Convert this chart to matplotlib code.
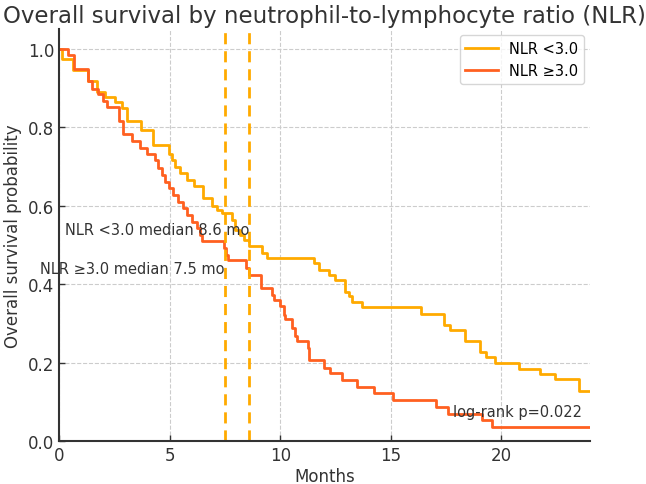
import matplotlib
matplotlib.use('Agg')
import matplotlib.pyplot as plt
import numpy as np

# NLR < 3.0 : step times (months) and survival after each step
t_low = [0, 0.14, 0.62, 1.33, 1.70, 2.08, 2.53, 2.84, 3.06, 3.71, 4.27, 4.95, 5.10,
         5.25, 5.48, 5.78, 6.08, 6.53, 6.91, 7.13, 7.36, 7.81, 7.96, 8.19, 8.34, 8.57,
         9.17, 9.40, 11.51, 11.73, 12.19, 12.49, 12.94, 13.09, 13.24, 13.70, 16.37,
         17.39, 17.69, 18.33, 18.37, 19.05, 19.32, 19.70, 20.78, 21.73, 22.44, 23.50]
s_low = [1.0, 0.975, 0.947, 0.919, 0.889, 0.876, 0.864, 0.848, 0.817, 0.792, 0.755,
         0.733, 0.716, 0.699, 0.683, 0.665, 0.650, 0.619, 0.600, 0.589, 0.581, 0.563,
         0.538, 0.525, 0.513, 0.496, 0.479, 0.467, 0.454, 0.437, 0.424, 0.411, 0.381,
         0.369, 0.354, 0.341, 0.325, 0.297, 0.282, 0.269, 0.255, 0.227, 0.214, 0.200,
         0.184, 0.170, 0.157, 0.128]

# NLR >= 3.0
t_high = [0, 0.39, 0.69, 1.33, 1.48, 1.78, 2.00, 2.16, 2.71, 2.91, 3.29, 3.67, 3.97,
          4.34, 4.49, 4.65, 4.80, 4.95, 5.17, 5.40, 5.62, 5.78, 6.00, 6.23, 6.38, 6.45,
          7.45, 7.55, 7.62, 8.45, 8.57, 9.13, 9.62, 9.70, 10.00, 10.15, 10.23, 10.53,
          10.68, 10.75, 11.24, 11.28, 11.96, 12.23, 12.79, 13.47, 14.22, 15.10, 17.06,
          17.60, 19.13, 19.58]
s_high = [1.0, 0.985, 0.948, 0.919, 0.898, 0.885, 0.868, 0.851, 0.817, 0.784, 0.766,
          0.746, 0.733, 0.716, 0.695, 0.678, 0.661, 0.645, 0.627, 0.610, 0.594, 0.576,
          0.559, 0.543, 0.525, 0.510, 0.492, 0.475, 0.462, 0.441, 0.424, 0.390, 0.373,
          0.360, 0.343, 0.322, 0.310, 0.289, 0.267, 0.255, 0.238, 0.206, 0.187, 0.173,
          0.156, 0.138, 0.122, 0.105, 0.087, 0.068, 0.054, 0.035]

t_end = 24
median_low = 8.6
median_high = 7.5
p_value = 0.022

c_low = '#FFAA00'
c_high = '#FF6020'

fig = plt.figure(figsize=(6.46, 4.85), dpi=100)
ax = fig.add_axes([0.0913, 0.0887, 0.822, 0.849])

ax.step(t_low + [t_end], s_low + [s_low[-1]], where='post', color=c_low, lw=2, label='NLR <3.0')
ax.step(t_high + [t_end], s_high + [s_high[-1]], where='post', color=c_high, lw=2, label='NLR \u22653.0')

ax.axvline(median_low, color=c_low, ls='--', lw=2, dashes=(4, 2.5))
ax.axvline(median_high, color=c_low, ls='--', lw=2, dashes=(4, 2.5))

ax.text(median_low, 0.54, 'NLR <3.0 median %.1f mo' % median_low, ha='right', va='center',
        fontsize=10.5, color='#333333')
ax.text(median_high, 0.44, 'NLR \u22653.0 median %.1f mo' % median_high, ha='right', va='center',
        fontsize=10.5, color='#333333')
ax.text(17.8, 0.074, 'log-rank p=%.3f' % p_value, ha='left', va='center',
        fontsize=10.5, color='#333333')

ax.set_xlim(0, 24)
ax.set_ylim(0, 1.05)
ax.set_xticks([0, 5, 10, 15, 20])
ax.set_yticks([0.0, 0.2, 0.4, 0.6, 0.8, 1.0])
ax.set_yticklabels(['0.0', '0.2', '0.4', '0.6', '0.8', '1.0'])

ax.set_title('Overall survival by neutrophil-to-lymphocyte ratio (NLR)', fontsize=16.5,
             color='#333333', pad=5)
ax.set_xlabel('Months', fontsize=12, color='#333333', labelpad=2)
ax.set_ylabel('Overall survival probability', fontsize=12, color='#333333')

ax.grid(True, ls='--', color='#cccccc', lw=0.8)
ax.set_axisbelow(True)
for s in ['top', 'right']:
    ax.spines[s].set_visible(False)
for s in ['left', 'bottom']:
    ax.spines[s].set_color('#333333')
    ax.spines[s].set_linewidth(1.5)
ax.tick_params(axis='both', direction='in', length=4, width=1, colors='#333333', labelsize=12)

ax.legend(loc='upper right', fontsize=10.5, frameon=True, edgecolor='#cccccc',
          handlelength=2.2, borderaxespad=0.4)

plt.savefig('out.png', dpi=100)
